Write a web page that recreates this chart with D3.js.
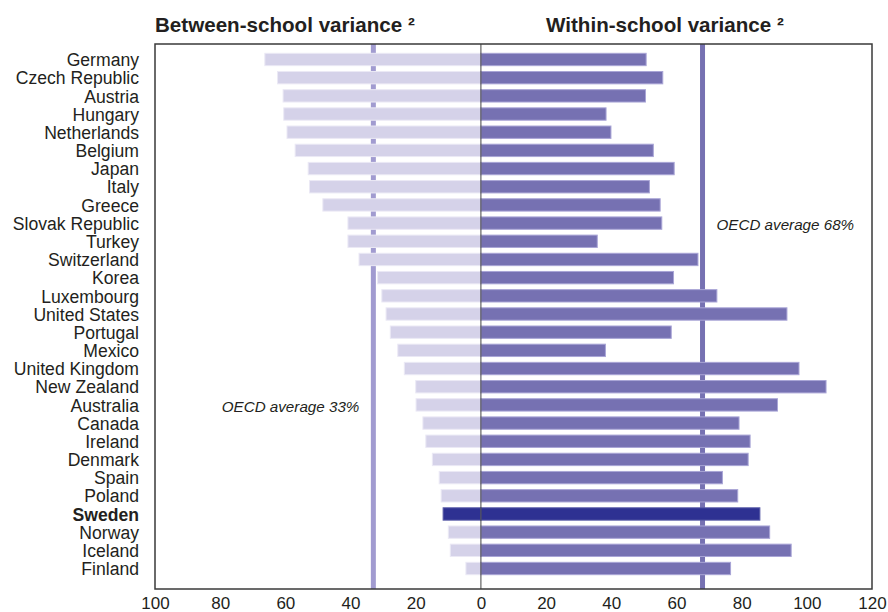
<!DOCTYPE html>
<html>
<head>
<meta charset="utf-8">
<script src="https://cdn.jsdelivr.net/npm/d3@7"></script>
<style>
  body { margin: 0; background: #fff; }
  svg { display: block; font-family: "Liberation Sans", Arial, Helvetica, sans-serif; }
</style>
</head>
<body>
<svg id="chart" width="888" height="612"></svg>
<script>
// Countries, top to bottom
const countries = [
  "Germany", "Czech Republic", "Austria", "Hungary", "Netherlands", "Belgium",
  "Japan", "Italy", "Greece", "Slovak Republic", "Turkey", "Switzerland",
  "Korea", "Luxembourg", "United States", "Portugal", "Mexico", "United Kingdom",
  "New Zealand", "Australia", "Canada", "Ireland", "Denmark", "Spain", "Poland",
  "Sweden", "Norway", "Iceland", "Finland"
];

// Between-school variance (% of OECD average total variance)
const betweenSchool = [
  66.3, 62.4, 60.7, 60.5, 59.5, 57.0, 53.0, 52.6, 48.5, 40.8, 40.8, 37.4,
  31.7, 30.4, 29.1, 27.8, 25.5, 23.5, 20.0, 19.9, 17.8, 16.9, 14.9, 12.8, 12.2,
  11.6, 10.0, 9.4, 4.6
];

// Within-school variance (% of OECD average total variance)
const withinSchool = [
  50.7, 55.8, 50.5, 38.4, 39.9, 52.9, 59.3, 51.7, 55.0, 55.5, 35.7, 66.6,
  59.1, 72.4, 93.9, 58.4, 38.2, 97.6, 105.9, 91.0, 79.2, 82.6, 82.0, 74.1, 78.8,
  85.6, 88.6, 95.2, 76.6
];

const oecdBetween = 33;
const oecdWithin = 68;
const highlight = "Sweden";

const tickValues = [-100, -80, -60, -40, -20, 0, 20, 40, 60, 80, 100, 120];
const titles = ["Between-school variance \u00B2", "Within-school variance \u00B2"];

const colors = {
  between: "#d5d2e9",
  within: "#7671b2",
  highlight: "#2e3192",
  avgBetween: "#a19bd0",
  avgWithin: "#7671b2",
  text: "#231f20",
  frame: "#3a3a3a"
};

const svg = d3.select("#chart");
const plot = { left: 155, right: 872, top: 44, bottom: 589 };

const x = d3.scaleLinear().domain([-100, 120]).range([plot.left, plot.right]);
const y = d3.scaleBand()
  .domain(countries)
  .range([50.4, 577.6])
  .paddingInner(0.32)
  .paddingOuter(0.16);

// OECD average lines (behind the bars)
svg.append("line")
  .attr("x1", x(-oecdBetween)).attr("x2", x(-oecdBetween))
  .attr("y1", plot.top).attr("y2", plot.bottom)
  .attr("stroke", colors.avgBetween).attr("stroke-width", 5);
svg.append("line")
  .attr("x1", x(oecdWithin)).attr("x2", x(oecdWithin))
  .attr("y1", plot.top).attr("y2", plot.bottom)
  .attr("stroke", colors.avgWithin).attr("stroke-width", 5);

const rows = countries.map((c, i) => ({ c, b: betweenSchool[i], w: withinSchool[i] }));

// Between-school bars extend left of zero
svg.append("g").selectAll("rect")
  .data(rows).join("rect")
  .attr("x", d => x(-d.b))
  .attr("y", d => y(d.c))
  .attr("width", d => x(0) - x(-d.b))
  .attr("height", y.bandwidth())
  .attr("fill", d => d.c === highlight ? colors.highlight : colors.between)
  .attr("stroke", d => d.c === highlight ? "#5b5da8" : "#ebe9f5")
  .attr("stroke-width", 1);

// Within-school bars extend right of zero
svg.append("g").selectAll("rect")
  .data(rows).join("rect")
  .attr("x", x(0))
  .attr("y", d => y(d.c))
  .attr("width", d => x(d.w) - x(0))
  .attr("height", y.bandwidth())
  .attr("fill", d => d.c === highlight ? colors.highlight : colors.within)
  .attr("stroke", d => d.c === highlight ? "#5b5da8" : "#a9a5d6")
  .attr("stroke-width", 1);

// Zero line
svg.append("line")
  .attr("x1", x(0)).attr("x2", x(0))
  .attr("y1", plot.top).attr("y2", plot.bottom)
  .attr("stroke", "#444").attr("stroke-width", 1);

// Plot frame
svg.append("rect")
  .attr("x", plot.left).attr("y", plot.top)
  .attr("width", plot.right - plot.left).attr("height", plot.bottom - plot.top)
  .attr("fill", "none").attr("stroke", colors.frame).attr("stroke-width", 1.5);

// Country labels
svg.append("g").selectAll("text")
  .data(countries).join("text")
  .attr("x", 139)
  .attr("y", d => y(d) + y.bandwidth() / 2)
  .attr("dy", "0.38em")
  .attr("text-anchor", "end")
  .attr("font-size", 17.6)
  .attr("font-weight", d => d === highlight ? "bold" : "normal")
  .attr("fill", colors.text)
  .text(d => d);

// Bottom axis with absolute values on both sides
const axis = d3.axisBottom(x)
  .tickValues(tickValues)
  .tickSize(0)
  .tickPadding(8)
  .tickFormat(d => Math.abs(d));
const gAxis = svg.append("g")
  .attr("transform", `translate(0,${plot.bottom})`)
  .call(axis);
gAxis.select(".domain").remove();
gAxis.selectAll("text")
  .attr("font-size", 17)
  .attr("font-family", "Liberation Sans, Arial, sans-serif")
  .attr("fill", colors.text);

// Panel titles
svg.append("text")
  .attr("x", 155).attr("y", 32)
  .attr("font-size", 20.6).attr("font-weight", "bold")
  .attr("fill", colors.text)
  .text(titles[0]);
svg.append("text")
  .attr("x", 546).attr("y", 32)
  .attr("font-size", 20.6).attr("font-weight", "bold")
  .attr("fill", colors.text)
  .text(titles[1]);

// OECD average annotations
svg.append("text")
  .attr("x", x(-oecdBetween) - 14).attr("y", 412)
  .attr("text-anchor", "end")
  .attr("font-size", 15.2).attr("font-style", "italic")
  .attr("fill", colors.text)
  .text(`OECD average ${oecdBetween}%`);
svg.append("text")
  .attr("x", x(oecdWithin) + 14).attr("y", 230)
  .attr("font-size", 15.2).attr("font-style", "italic")
  .attr("fill", colors.text)
  .text(`OECD average ${oecdWithin}%`);
</script>
</body>
</html>
